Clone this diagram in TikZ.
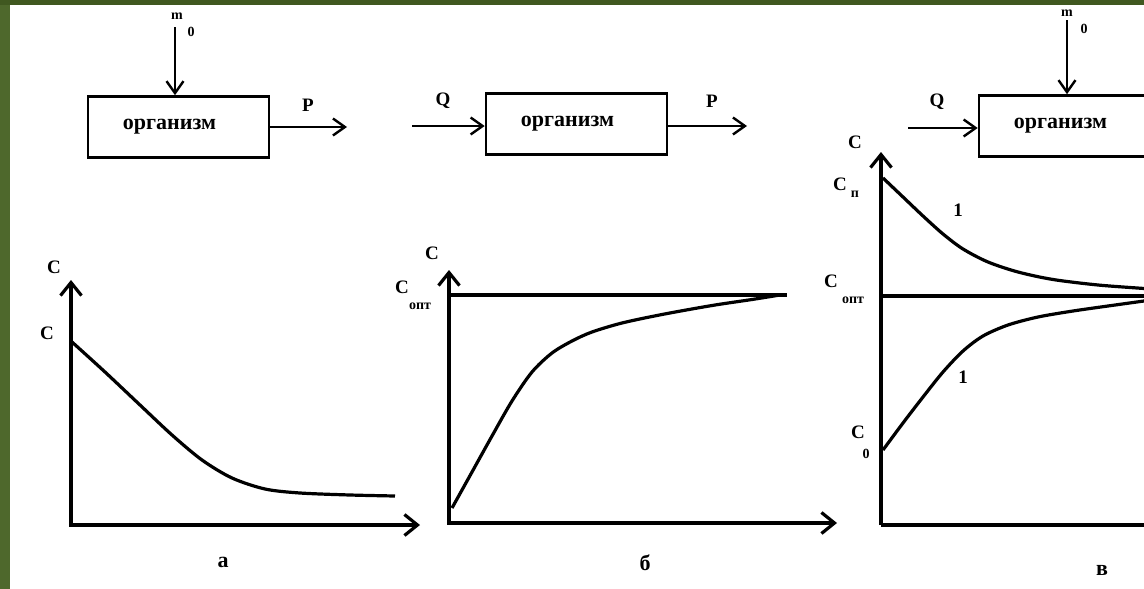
\documentclass[tikz,border=0pt]{standalone}
\usepackage{fontspec}
\setmainfont{Liberation Serif}
\usetikzlibrary{arrows.meta}
\definecolor{frameleft}{RGB}{78,104,44}
\definecolor{frametop}{RGB}{64,88,32}

\begin{document}
\begin{tikzpicture}[x=1pt,y=-1pt,
  box/.style={draw,line width=2.6pt,minimum width=181pt,minimum height=61pt,inner sep=0pt,
    font=\bfseries\fontsize{22}{23}\selectfont,execute at end node=\hspace*{18pt}},
  flow/.style={line width=2.4pt,-{Straight Barb[length=12pt,width=17pt]}},
  axis/.style={line width=3.2pt,{Straight Barb[length=13pt,width=21pt]}-{Straight Barb[length=13pt,width=21pt]}},
  curve/.style={line width=3.2pt,smooth},
  lbl/.style={font=\bfseries\fontsize{19}{20}\selectfont,inner sep=0pt},
  idx/.style={font=\bfseries\fontsize{14}{15}\selectfont,inner sep=0pt},
  panel/.style={font=\bfseries\fontsize{22}{23}\selectfont,inner sep=0pt}]
\useasboundingbox (0,0) rectangle (1144,589);
\fill[frameleft] (0,0) rectangle (10,589);
\fill[frametop] (0,0) rectangle (1144,5);

% а
\node[box] (orgA) at (178.5,127) {организм};
\coordinate (mA) at (175,27); \coordinate (pA) at (347,127);
\draw[flow] (mA) -- (mA |- orgA.north);
\draw[flow] (orgA.east) -- (pA);
\node[idx] (mAl) at (177,16) {m}; \node[idx] (mAi) at (191,32) {0};
\node[lbl] (pAl) at (308,105) {P};
\coordinate (oA) at (71,525); \coordinate (yA) at (71,280); \coordinate (xA) at (420,525);
\draw[axis] (yA) -- (oA) -- (xA);
\node[lbl] (cA) at (54,267) {C}; \node[lbl] (cA0) at (47,333) {C};
\draw[curve] plot coordinates {(72,342) (105,372) (140,405) (172,435) (202,460) (232,478) (265,489) (300,493) (350,495) (395,496)};
\node[panel] (capA) at (223,562) {а};

% б
\node[box] (orgB) at (576.5,124) {организм};
\coordinate (qB) at (412,126); \coordinate (pB) at (747,126);
\draw[flow] (qB) -- (qB -| orgB.west);
\draw[flow] (pB -| orgB.east) -- (pB);
\node[lbl] (qBl) at (443,101) {Q}; \node[lbl] (pBl) at (712,101) {P};
\coordinate (oB) at (449,523); \coordinate (yB) at (449,270); \coordinate (xB) at (837,523);
\draw[axis] (yB) -- (oB) -- (xB);
\coordinate (optB) at (787,295);
\draw[curve] (optB -| oB) -- (optB);
\node[lbl] (cB) at (432,253) {C};
\node[lbl] (cBo) at (402,287) {C}; \node[idx] (cBoi) at (420,306) {опт};
\draw[curve] plot coordinates {(452,508) (472,472) (492,436) (512,401) (532,372) (552,353) (572,341) (592,332) (622,323) (662,314.5) (712,305.5) (752,299.5) (780,295)};
\node[panel] (capB) at (645,563) {б};

% в
\node[box] (orgC) at (1069.5,126) {организм};
\coordinate (mC) at (1067,20); \coordinate (qC) at (908,128);
\draw[flow] (mC) -- (mC |- orgC.north);
\draw[flow] (qC) -- (qC -| orgC.west);
\node[idx] (mCl) at (1067,13) {m}; \node[idx] (mCi) at (1084,29) {0};
\node[lbl] (qCl) at (937,102) {Q};
\coordinate (oC) at (881,525); \coordinate (yC) at (881,152); \coordinate (xC) at (1160,525);
\draw[axis,-] (oC) -- (xC);
\draw[axis,-{Straight Barb[length=13pt,width=21pt]}] (oC) -- (yC);
\coordinate (optC) at (1160,296);
\draw[curve] (optC -| oC) -- (optC);
\node[lbl] (cC) at (855,142) {C};
\node[lbl] (cCp) at (840,184) {C}; \node[idx] (cCpi) at (855,194) {п};
\node[lbl] (cCo) at (831,281) {C}; \node[idx] (cCoi) at (853,300) {опт};
\node[lbl] (cC0) at (858,432) {C}; \node[idx] (cC0i) at (866,454) {0};
\draw[curve] plot coordinates {(883,178) (903,197) (923,216) (943,234) (963,249) (988,262) (1018,272) (1053,279.5) (1098,285) (1144,288.5) (1155,289.5)};
\draw[curve] plot coordinates {(883,450) (903,423) (923,397) (943,372) (963,351) (983,336) (1008,325) (1038,317) (1073,311) (1108,306) (1144,301) (1155,299.5)};
\node[lbl] (oneU) at (958,210) {1}; \node[lbl] (oneL) at (963,377) {1};
\node[panel] (capC) at (1102,570) {в};
\end{tikzpicture}
\end{document}
